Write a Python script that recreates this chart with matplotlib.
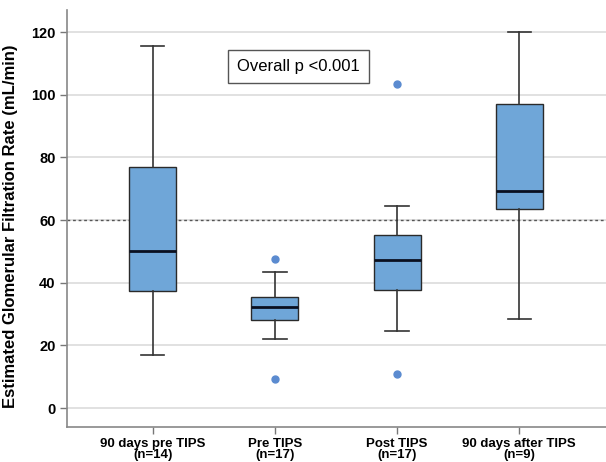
import matplotlib
matplotlib.use('agg')
import matplotlib.pyplot as plt

plt.rcParams['font.family'] = ['Liberation Sans', 'DejaVu Sans']

labels = ['90 days pre TIPS\n(n=14)', 'Pre TIPS\n(n=17)', 'Post TIPS\n(n=17)', '90 days after TIPS\n(n=9)']
q1 = [37.3, 28.1, 37.7, 63.5]
med = [50.2, 32.3, 47.2, 69.3]
q3 = [76.9, 35.5, 55.2, 96.9]
whislo = [16.9, 22.0, 24.6, 28.4]
whishi = [115.5, 43.5, 64.5, 119.9]
fliers = [[], [47.6, 9.4], [103.3, 10.8], []]
yticks = [0, 20, 40, 60, 80, 100, 120]

stats = []
for i in range(len(labels)):
    stats.append({'q1': q1[i], 'med': med[i], 'q3': q3[i],
                  'whislo': whislo[i], 'whishi': whishi[i],
                  'fliers': fliers[i], 'label': labels[i]})

fig = plt.figure(figsize=(6.06, 4.62), dpi=100)
ax = fig.add_axes([0.111, 0.076, 0.889, 0.902])

for y in yticks:
    ax.axhline(y, color='#dcdcdc', lw=1.2, zorder=0)
ax.axhline(60, color='#555555', lw=1, ls=(0, (2, 2)), zorder=1)

ax.bxp(stats, positions=[1, 2, 3, 4], widths=0.385, capwidths=0.19,
       patch_artist=True,
       boxprops=dict(facecolor='#6fa6d8', edgecolor='#2a2a2a', lw=1),
       medianprops=dict(color='#0a1020', lw=2),
       whiskerprops=dict(color='#333333', lw=1.2),
       capprops=dict(color='#333333', lw=1.2),
       flierprops=dict(marker='o', markerfacecolor='#5b8bd0', markeredgecolor='#5b8bd0', markersize=5))

ax.text(2.19, 109, 'Overall p <0.001', ha='center', va='center', fontsize=12,
        bbox=dict(boxstyle='square,pad=0.55', facecolor='white', edgecolor='#555555', lw=1))

ax.set_xlim(0.3, 4.71)
ax.set_ylim(-6, 127)
ax.set_yticks(yticks)
ax.set_yticklabels([str(v) for v in yticks], fontweight='bold', fontsize=10.5)
ax.set_xticks([1, 2, 3, 4])
ax.set_xticklabels(labels, fontweight='bold', fontsize=9.5, linespacing=0.85)
ax.set_ylabel('Estimated Glomerular Filtration Rate (mL/min)', fontweight='bold', fontsize=12)
ax.yaxis.set_label_coords(-0.092, 0.482)
ax.tick_params(axis='both', color='#777777', length=5, width=1)
ax.tick_params(axis='x', pad=3)
for s in ['top', 'right']:
    ax.spines[s].set_visible(False)
for s in ['left', 'bottom']:
    ax.spines[s].set_color('#888888')
    ax.spines[s].set_linewidth(1.2)

plt.savefig('out.png', dpi=100)
